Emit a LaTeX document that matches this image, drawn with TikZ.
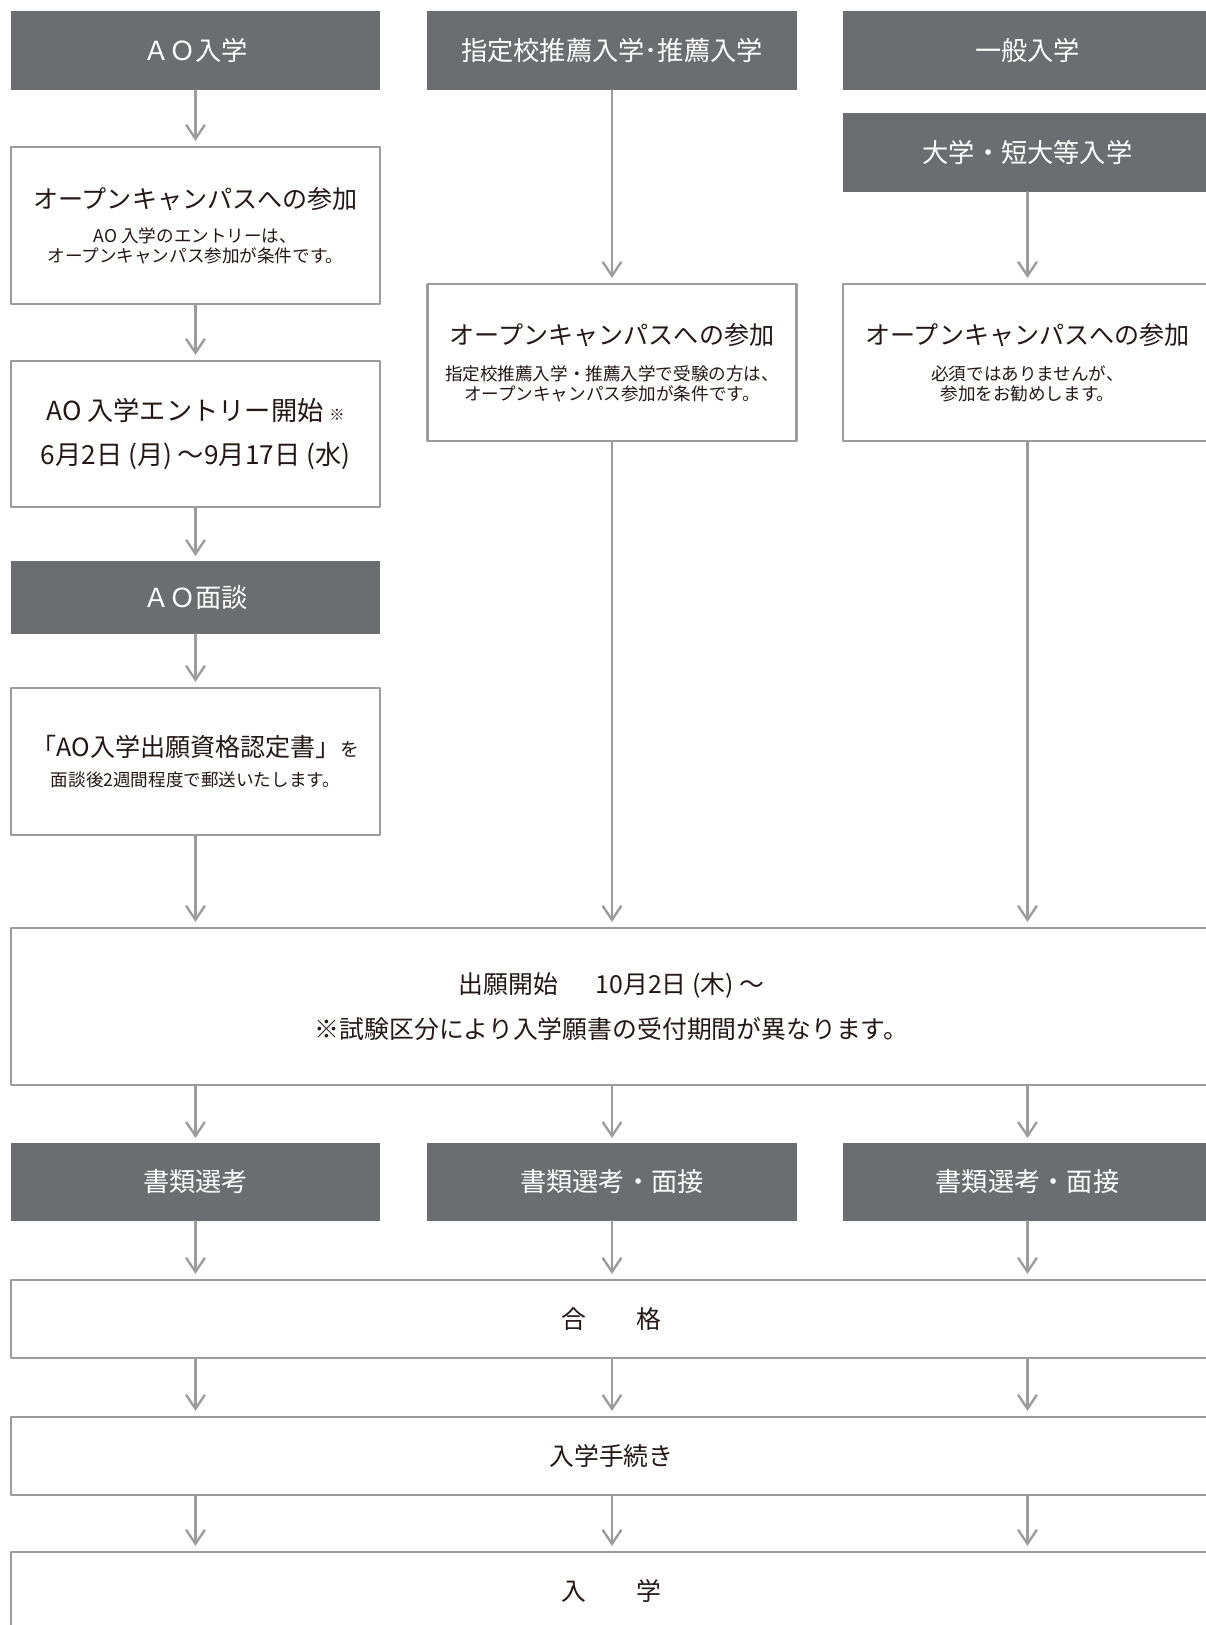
\documentclass[tikz,border=0pt]{standalone}
\usepackage{fontspec}
\setmainfont{Noto Sans CJK JP}
\usetikzlibrary{arrows.meta}

\definecolor{boxfill}{HTML}{6C6D71}
\definecolor{linegray}{HTML}{9C9C9E}
\definecolor{inkblack}{HTML}{231815}

\newcommand\hdrfont{\fontsize{22.4}{26}\selectfont}
\newcommand\bigjp{\fontsize{21.4}{26}\selectfont}
\newcommand\midjp{\fontsize{21.2}{25}\selectfont}
\newcommand\smalljp{\fontsize{15}{17}\selectfont}
\newcommand\datejp{\fontsize{22.4}{26}\selectfont}
\newcommand\pk{\kern0.22em}

\tikzset{
  hdr/.style={fill=boxfill, draw=none, inner sep=0, text=white, font=\hdrfont,
    minimum width=11.07cm, minimum height=2.37cm},
  wbox/.style={draw=linegray, line width=2.4pt, fill=white, inner sep=0, text=inkblack,
    align=center, minimum width=11.07cm, font=\smalljp},
  wide/.style={wbox, minimum width=36.03cm, minimum height=2.34cm, font=\midjp},
  arr/.style={draw=linegray, line width=2pt, -{Straight Barb[length=12pt,width=16pt]},
    shorten >=4pt},
}

\begin{document}
\begin{tikzpicture}[line cap=round,line join=round,x=0.03cm,y=-0.03cm]
      \useasboundingbox (0,0) rectangle (1206,1625);
      \clip (0,0) rectangle (1206,1625);

      % headers
      \node[hdr] (hdrL) at (195.5, 50.5) {ＡＯ入学};
      \node[hdr] (hdrM) at (612, 50.5) {指定校推薦入学･推薦入学};
      \node[hdr] (hdrR) at (1027.5, 50.5) {一般入学};
      \node[hdr] (hdrR2) at (1027.5, 152.5) {大学・短大等入学};

      % open campus
      \node[wbox, minimum height=4.71cm] (ocL) at (195.5, 225.5)
        {\bigjp オープンキャンパスへの参加\\[12pt]
         AO 入学のエントリーは、\\ オープンキャンパス参加が条件です。};
      \node[wbox, minimum height=4.71cm] (ocM) at (612, 362.5)
        {\bigjp オープンキャンパスへの参加\\[14pt]
         指定校推薦入学・推薦入学で受験の方は、\\ オープンキャンパス参加が条件です。};
      \node[wbox, minimum height=4.71cm] (ocR) at (1027.5, 362.5)
        {\bigjp オープンキャンパスへの参加\\[14pt]
         必須ではありませんが、\\ 参加をお勧めします。};

      % AO entry
      \node[wbox, minimum height=4.38cm, font=\datejp] (entry) at (195.5, 434)
        {AO 入学エントリー開始 {\fontsize{13}{14}\selectfont ※}\\[12pt]
         6月2日\pk(月)\pk〜9月17日\pk(水)};
      \node[hdr, minimum height=2.19cm] (mensetsu) at (195.5, 597.5) {ＡＯ面談};
      \node[wbox, minimum height=4.41cm] (nintei) at (195.5, 761.5)
        {\bigjp 「AO入学出願資格認定書」{\fontsize{16}{18}\selectfont を}\\[9pt]
         面談後2週間程度で郵送いたします。};

      % application
      \node[wide, minimum height=4.71cm] (shutsugan) at (611.5, 1006.5)
        {出願開始\hspace{1.5em}10月2日\pk(木)\pk〜\\[14pt]
         ※試験区分により入学願書の受付期間が異なります。};

      % selection
      \node[hdr, minimum height=2.34cm] (selL) at (195.5, 1182) {書類選考};
      \node[hdr, minimum height=2.34cm] (selM) at (612, 1182) {書類選考・面接};
      \node[hdr, minimum height=2.34cm] (selR) at (1027.5, 1182) {書類選考・面接};

      \node[wide] (gokaku) at (611.5, 1319) {合　　格};
      \node[wide] (tetsu) at (611.5, 1456) {入学手続き};
      \node[wide] (nyugaku) at (611.5, 1591) {入　　学};

      % left column
      \draw[arr] (hdrL.south) -- (ocL.north);
      \draw[arr] (ocL.south) -- (entry.north);
      \draw[arr] (entry.south) -- (mensetsu.north);
      \draw[arr] (mensetsu.south) -- (nintei.north);
      \draw[arr] (nintei.south) -- (shutsugan.north -| nintei);

      % middle and right columns
      \draw[arr] (hdrM.south) -- (ocM.north);
      \draw[arr] (ocM.south) -- (shutsugan.north -| ocM);
      \draw[arr] (hdrR2.south) -- (ocR.north);
      \draw[arr] (ocR.south) -- (shutsugan.north -| ocR);

      % lower rows
      \foreach \c in {selL,selM,selR}{
        \draw[arr] (shutsugan.south -| \c) -- (\c.north);
        \draw[arr] (\c.south) -- (gokaku.north -| \c);
        \draw[arr] (gokaku.south -| \c) -- (tetsu.north -| \c);
        \draw[arr] (tetsu.south -| \c) -- (nyugaku.north -| \c);
      }

\end{tikzpicture}
\end{document}
